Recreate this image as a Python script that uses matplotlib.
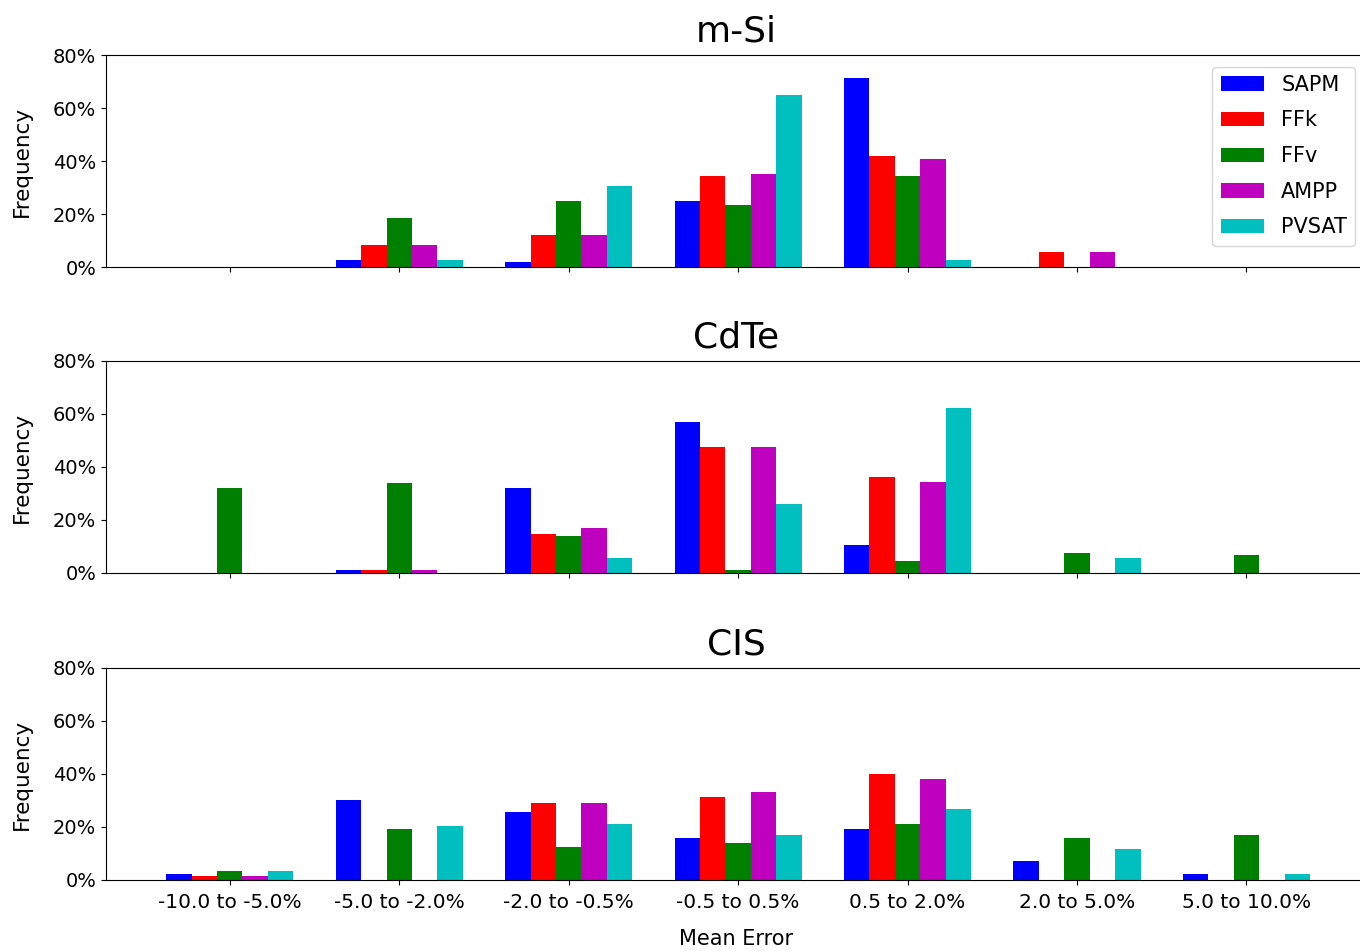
import numpy as np
import matplotlib
matplotlib.use("Agg")
import matplotlib.pyplot as plt
from matplotlib.ticker import PercentFormatter

CATEGORIES = ["-10.0 to -5.0%", "-5.0 to -2.0%", "-2.0 to -0.5%", "-0.5 to 0.5%",
              "0.5 to 2.0%", "2.0 to 5.0%", "5.0 to 10.0%"]
MODELS = ["SAPM", "FFk", "FFv", "AMPP", "PVSAT"]
COLORS = ["b", "r", "g", "m", "c"]

# frequency of each mean-error bin, percent
msi_sapm = [0, 2.8, 1.8, 25.1, 71.5, 0, 0]
msi_ffk = [0, 8.2, 12.0, 34.3, 41.9, 5.6, 0]
msi_ffv = [0, 18.5, 25.1, 23.5, 34.3, 0, 0]
msi_ampp = [0, 8.2, 12.0, 35.3, 40.9, 5.6, 0]
msi_pvsat = [0, 2.8, 30.5, 65.1, 2.8, 0, 0]

cdte_sapm = [0, 1.0, 32.1, 57.0, 10.5, 0, 0]
cdte_ffk = [0, 1.0, 14.8, 47.6, 36.4, 0, 0]
cdte_ffv = [32.1, 34.1, 13.8, 1.0, 4.4, 7.7, 6.7]
cdte_ampp = [0, 1.0, 16.8, 47.6, 34.2, 0, 0]
cdte_pvsat = [0, 0, 5.6, 25.9, 62.4, 5.6, 0]

cis_sapm = [2.4, 30.0, 25.7, 16.0, 19.2, 7.3, 2.4]
cis_ffk = [1.4, 0, 28.9, 31.2, 40.1, 0, 0]
cis_ffv = [3.5, 19.2, 12.6, 13.9, 21.3, 16.0, 17.0]
cis_ampp = [1.4, 0, 28.9, 33.3, 38.0, 0, 0]
cis_pvsat = [3.5, 20.3, 21.3, 17.0, 26.9, 11.6, 2.4]

panels = [
    ("m-Si", [msi_sapm, msi_ffk, msi_ffv, msi_ampp, msi_pvsat]),
    ("CdTe", [cdte_sapm, cdte_ffk, cdte_ffv, cdte_ampp, cdte_pvsat]),
    ("CIS", [cis_sapm, cis_ffk, cis_ffv, cis_ampp, cis_pvsat]),
]

fig = plt.figure(figsize=(13.6, 9.51), dpi=100)
left, width, height = 0.078, 0.927, 0.2229
bottoms = [0.7192, 0.3975, 0.0747]

x = np.arange(len(CATEGORIES))
bw = 0.15
axes = []
for i, (name, series) in enumerate(panels):
    ax = fig.add_axes([left, bottoms[i], width, height])
    for j, (vals, col) in enumerate(zip(series, COLORS)):
        ax.bar(x + (j - 2) * bw, np.array(vals) / 100.0, width=bw, color=col,
               label=MODELS[j], lw=0)
    ax.set_ylim(0, 0.8)
    ax.set_xlim(-0.73, 6.71)
    ax.set_yticks([0, 0.2, 0.4, 0.6, 0.8])
    ax.yaxis.set_major_formatter(PercentFormatter(1.0, decimals=0))
    ax.set_xticks(x)
    ax.tick_params(axis="both", labelsize=14)
    ax.tick_params(axis="x", pad=6)
    ax.set_ylabel("Frequency", fontsize=15.5, labelpad=15)
    ax.set_title(name, fontsize=26, pad=10)
    if i < 2:
        ax.set_xticklabels([])
    else:
        ax.set_xticklabels(CATEGORIES, fontsize=14.5)
        ax.set_xlabel("Mean Error", fontsize=15, labelpad=12)
    axes.append(ax)

axes[0].legend(loc="upper right", fontsize=15, labelspacing=0.75,
               handlelength=2.1, borderaxespad=0.55)

fig.savefig("out.png", dpi=100)
